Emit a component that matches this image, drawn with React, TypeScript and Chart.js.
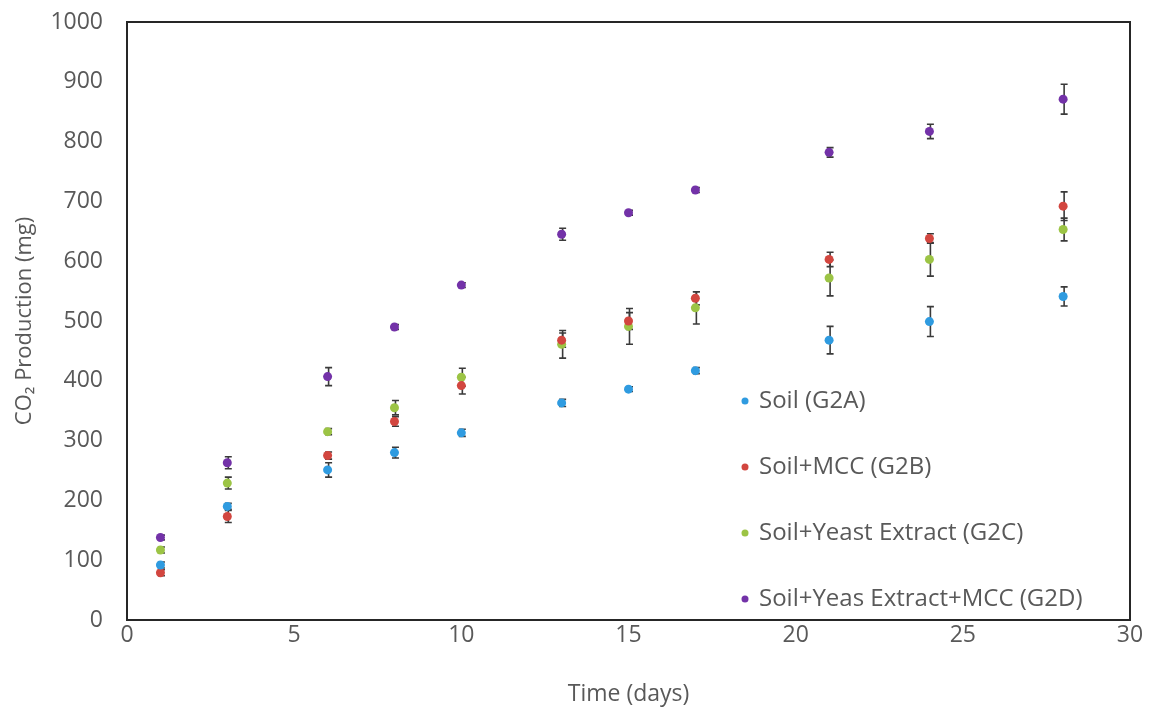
import React, { useEffect, useRef } from "react";
import { Chart, registerables } from "chart.js";

Chart.register(...registerables);

const days = [1, 3, 6, 8, 10, 13, 15, 17, 21, 24, 28];
const soil = [92, 190, 251, 280, 313, 363, 386, 417, 468, 499, 541];
const soilErr = [5, 5, 12, 9, 6, 6, 4, 5, 23, 25, 16];
const mcc = [79, 173, 275, 332, 392, 468, 500, 538, 603, 638, 692];
const mccErr = [5, 10, 6, 8, 14, 12, 14, 11, 12, 8, 24];
const yeast = [117, 229, 315, 355, 406, 461, 491, 522, 572, 603, 653];
const yeastErr = [5, 10, 5, 12, 15, 23, 30, 27, 30, 28, 19];
const mix = [138, 263, 407, 490, 560, 645, 681, 719, 782, 817, 871];
const mixErr = [4, 10, 15, 4, 4, 10, 4, 4, 8, 12, 25];

const seriesNames = [
  "Soil (G2A)",
  "Soil+MCC (G2B)",
  "Soil+Yeast Extract (G2C)",
  "Soil+Yeas Extract+MCC (G2D)",
];
const seriesColors = ["#2f9be0", "#d2463f", "#9cc445", "#7332a8"];
const seriesValues = [soil, mcc, yeast, mix];
const seriesErrors = [soilErr, mccErr, yeastErr, mixErr];

const FONT = "'Open Sans', sans-serif";
const TEXT = "#595959";

const errorBarPlugin = {
  id: "errorBars",
  beforeDatasetsDraw(chart: any) {
    const ctx = chart.ctx;
    const xs = chart.scales.x;
    const ys = chart.scales.y;
    ctx.save();
    ctx.strokeStyle = "#3a3a3a";
    ctx.lineWidth = 1.6;
    seriesValues.forEach((vals, si) => {
      const errs = seriesErrors[si];
      vals.forEach((v, i) => {
        const x = xs.getPixelForValue(days[i]) + 1;
        const yTop = ys.getPixelForValue(v + errs[i]);
        const yBot = ys.getPixelForValue(v - errs[i]);
        ctx.beginPath();
        ctx.moveTo(x, yTop);
        ctx.lineTo(x, yBot);
        ctx.moveTo(x - 3.5, yTop);
        ctx.lineTo(x + 3.5, yTop);
        ctx.moveTo(x - 3.5, yBot);
        ctx.lineTo(x + 3.5, yBot);
        ctx.stroke();
      });
    });
    ctx.restore();
  },
};

const framePlugin = {
  id: "frame",
  afterDraw(chart: any) {
    const { ctx, chartArea } = chart;
    ctx.save();
    ctx.strokeStyle = "#262626";
    ctx.lineWidth = 2;
    ctx.strokeRect(
      chartArea.left,
      chartArea.top,
      chartArea.right - chartArea.left,
      chartArea.bottom - chartArea.top
    );
    // legend inside the plot area
    ctx.font = `24px ${FONT}`;
    ctx.textBaseline = "middle";
    ctx.textAlign = "left";
    seriesNames.forEach((name, i) => {
      const y = 401 + i * 66;
      ctx.fillStyle = seriesColors[i];
      ctx.beginPath();
      ctx.arc(745, y, 3.5, 0, Math.PI * 2);
      ctx.fill();
      ctx.fillStyle = TEXT;
      ctx.fillText(name, 759, y);
    });
    ctx.restore();
  },
};

export default function App() {
  const ref = useRef<HTMLCanvasElement>(null);
  useEffect(() => {
    if (!ref.current) return;
    const chart = new Chart(ref.current, {
      type: "scatter",
      data: {
        datasets: seriesNames.map((name, si) => ({
          label: name,
          data: seriesValues[si].map((v, i) => ({ x: days[i], y: v })),
          backgroundColor: seriesColors[si],
          borderColor: seriesColors[si],
          pointRadius: 4.5,
          pointBorderWidth: 0,
          showLine: false,
        })),
      },
      options: {
        animation: false,
        responsive: true,
        maintainAspectRatio: false,
        layout: { padding: { top: 22, right: 20, bottom: 0, left: 0 } },
        plugins: { legend: { display: false }, tooltip: { enabled: false } },
        scales: {
          x: {
            type: "linear",
            min: 0,
            max: 30,
            grid: { display: false, drawTicks: false },
            border: { display: false },
            ticks: {
              stepSize: 5,
              color: TEXT,
              font: { family: FONT, size: 23 },
              padding: 2,
              callback: (v: any) => String(v),
            },
            title: {
              display: true,
              text: "Time (days)",
              color: TEXT,
              font: { family: FONT, size: 23 },
              padding: { top: 0, bottom: 0 },
            },
            afterFit(scale: any) {
              scale.height = 88;
            },
          },
          y: {
            min: 0,
            max: 1000,
            grid: { display: false, drawTicks: false },
            border: { display: false },
            ticks: {
              stepSize: 100,
              color: TEXT,
              font: { family: FONT, size: 23 },
              padding: 24,
              callback: (v: any) => String(v),
            },
            title: {
              display: true,
              text: "CO₂ Production (mg)",
              color: TEXT,
              font: { family: FONT, size: 22 },
              padding: { top: 12, bottom: 0 },
            },
            afterFit(scale: any) {
              scale.width = 127;
              scale.paddingTop = 0;
              scale.paddingBottom = 0;
            },
          },
        },
      },
      plugins: [errorBarPlugin, framePlugin],
    } as any);
    return () => chart.destroy();
  }, []);
  return (
    <div style={{ position: "absolute", left: 0, top: 0, width: 1150, height: 708, background: "#fff" }}>
      <canvas ref={ref} />
    </div>
  );
}
